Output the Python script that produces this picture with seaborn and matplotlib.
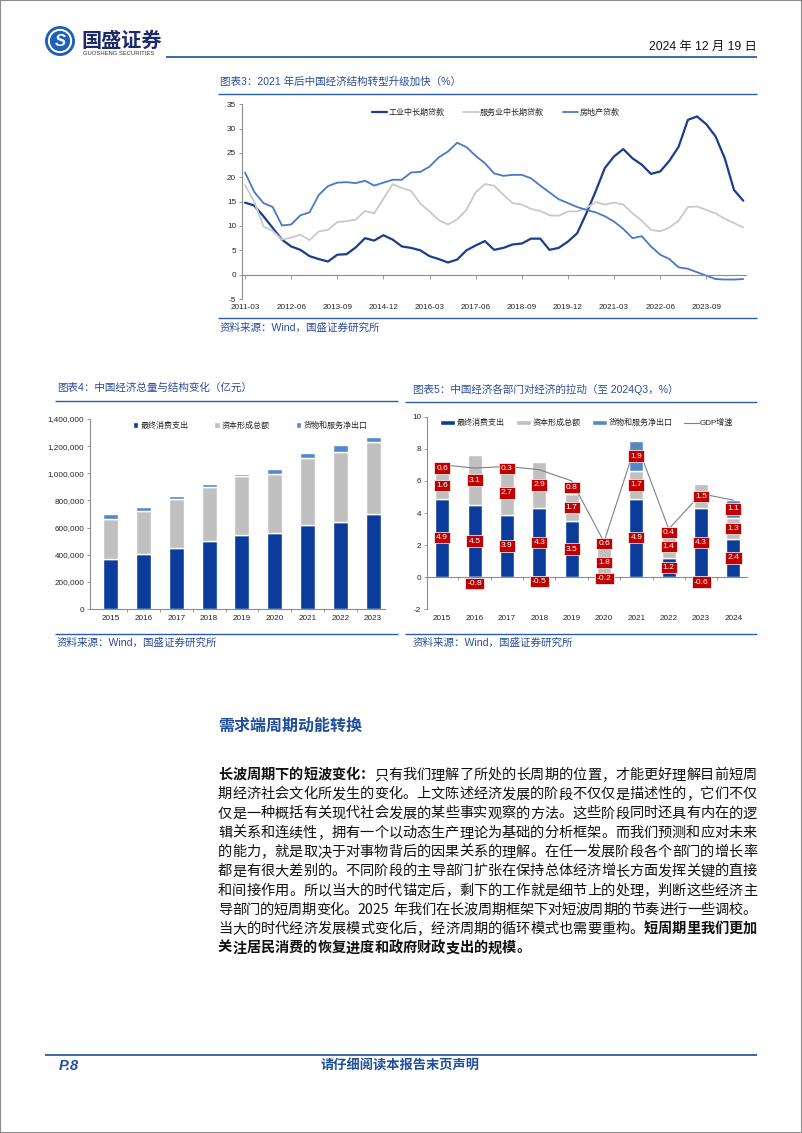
import numpy as np
import pandas as pd
import matplotlib
matplotlib.use('Agg')
import matplotlib.pyplot as plt
from matplotlib.lines import Line2D
from matplotlib.patches import Rectangle, Circle
import seaborn as sns

# ---------------- data ----------------
# Chart 3 (quarterly, 2011-03 .. 2024-09)
industrial = [14.8, 14.2, 12.0, 9.6, 7.2, 5.8, 5.1, 3.8, 3.2, 2.7, 4.1, 4.2, 5.6, 7.5, 7.0,
              8.1, 7.2, 5.8, 5.5, 5.0, 3.8, 3.2, 2.5, 3.1, 5.0, 6.0, 6.9, 5.1, 5.5, 6.2,
              6.4, 7.4, 7.4, 5.1, 5.5, 6.8, 8.5, 12.6, 17.1, 21.9, 24.3, 25.8, 23.9, 22.6, 20.7,
              21.2, 23.4, 26.3, 31.8, 32.5, 30.9, 28.4, 23.9, 17.4, 15.2]
services = [18.4, 15.0, 9.9, 9.0, 7.2, 7.6, 8.2, 7.1, 8.9, 9.2, 10.8, 11.0, 11.3, 13.1, 12.6,
            15.6, 18.6, 17.8, 17.2, 14.6, 13.0, 11.2, 10.3, 11.4, 13.3, 16.9, 18.6, 18.3, 16.4, 14.7,
            14.4, 13.5, 13.1, 12.2, 12.1, 13.0, 13.0, 13.7, 14.9, 14.4, 14.8, 14.4, 12.6, 11.1, 9.2,
            8.9, 9.7, 11.1, 13.9, 14.0, 13.3, 12.6, 11.5, 10.6, 9.7]
real_estate = [21.0, 17.0, 14.7, 13.9, 10.1, 10.3, 12.2, 12.8, 16.4, 18.2, 18.9, 19.0, 18.8, 19.3, 18.3,
               18.9, 19.5, 19.5, 21.0, 21.1, 22.2, 24.1, 25.3, 27.1, 26.2, 24.4, 22.9, 20.8, 20.3, 20.5,
               20.5, 19.8, 18.3, 16.9, 15.5, 14.7, 13.9, 13.3, 12.8, 12.0, 10.9, 9.4, 7.5, 7.9, 5.8,
               4.1, 3.2, 1.5, 1.2, 0.5, -0.2, -0.9, -1.0, -1.0, -0.9]
quarter_ticks = ['2011-03', '2012-06', '2013-09', '2014-12', '2016-03', '2017-06',
                 '2018-09', '2019-12', '2021-03', '2022-06', '2023-09']
series3_names = ['工业中长期贷款', '服务业中长期贷款', '房地产贷款']

# Chart 4 (亿元)
years4 = ['2015', '2016', '2017', '2018', '2019', '2020', '2021', '2022', '2023']
consumption4 = [366000, 408000, 452000, 503000, 548000, 557000, 616000, 641000, 700000]
capital4 = [297000, 316000, 358000, 398000, 432000, 438000, 499000, 518000, 528000]
netexp4 = [34000, 27000, 22000, 17000, 15000, 36000, 37000, 49000, 39000]
names4 = ['最终消费支出', '资本形成总额', '货物和服务净出口']

# Chart 5 (%)
years5 = ['2015', '2016', '2017', '2018', '2019', '2020', '2021', '2022', '2023', '2024']
consumption5 = [4.9, 4.5, 3.9, 4.3, 3.5, -0.2, 4.9, 1.2, 4.3, 2.4]
capital5 = [1.6, 3.1, 2.7, 2.9, 1.7, 1.8, 1.7, 1.4, 1.5, 1.3]
netexp5 = [0.6, -0.8, 0.3, -0.5, 0.8, 0.6, 1.9, 0.4, -0.6, 1.1]
gdp5 = [7.0, 6.8, 6.9, 6.7, 6.0, 2.2, 8.4, 3.0, 5.2, 4.8]
names5 = ['最终消费支出', '资本形成总额', '货物和服务净出口', 'GDP增速']

# ---------------- style ----------------
sns.set_theme(style='white')
plt.rcParams['font.family'] = ['Liberation Sans', 'Noto Sans CJK SC']
plt.rcParams['axes.unicode_minus'] = False

DARK = '#0B3C9C'
GRAY = '#C0C0C0'
LIGHT = '#5488CC'
ACCENT = '#2A5CAA'
TITLE_C = '#2B4C9B'
TXT = '#262626'
SPINE = '#8C8C8C'

W, H = 802, 1133
fig = plt.figure(figsize=(W / 100, H / 100), dpi=100)
fig.patch.set_facecolor('white')


def fx(x):
    return x / W


def fy(y):
    return 1 - y / H


def hline(x0, x1, y, color=ACCENT, lw=1.0):
    fig.add_artist(Line2D([fx(x0), fx(x1)], [fy(y), fy(y)], transform=fig.transFigure,
                          color=color, lw=lw, solid_capstyle='butt'))


def axes_px(l, t, r, b):
    return fig.add_axes([fx(l), fy(b), (r - l) / W, (b - t) / H])


def style_ax(ax):
    ax.set_facecolor('none')
    ax.grid(False)
    for s in ['top', 'right']:
        ax.spines[s].set_visible(False)
    for s in ['left', 'bottom']:
        ax.spines[s].set_color(SPINE)
        ax.spines[s].set_linewidth(0.8)
    ax.tick_params(axis='both', labelsize=5.9, labelcolor=TXT, color=SPINE, width=0.6)
    ax.tick_params(axis='y', left=True, length=2, pad=2, direction='out')


# page border
fig.add_artist(Rectangle((0, 0), 1, 1, transform=fig.transFigure, fill=False,
                         ec='#8a8a8a', lw=1.5))

# ---------------- header ----------------
axl = axes_px(45, 26, 75, 56)
axl.set_aspect('equal')
axl.set_xlim(-1.05, 1.05)
axl.set_ylim(-1.05, 1.05)
axl.axis('off')
axl.add_patch(Circle((0, 0), 1.0, color='#1F5FB8'))
axl.add_patch(Circle((0, 0), 0.80, color='white'))
axl.add_patch(Circle((0, 0), 0.66, color='#1F5FB8'))
axl.text(0, -0.02, 'S', ha='center', va='center', color='white', fontsize=12,
         fontweight='bold', fontstyle='italic', family=['Liberation Sans'])

fig.text(fx(81), fy(40), '国盛证券', fontsize=14.5, fontweight='bold', color='#1B2A6B',
         va='center', ha='left', family=['Noto Sans CJK SC'])
fig.text(fx(83), fy(53.5), 'GUOSHENG SECURITIES', fontsize=4.2, color='#333333',
         va='center', ha='left')
hline(166, 757, 57, ACCENT, 1.3)
fig.text(fx(757), fy(47), '2024 年 12 月 19 日', fontsize=8.8, color='#111111',
         ha='right', va='center',
         family=['Liberation Sans Narrow', 'Liberation Sans', 'Noto Sans CJK SC'])

# ---------------- chart 3 ----------------
fig.text(fx(220), fy(82), '图表3：2021 年后中国经济结构转型升级加快（%）', fontsize=7.6,
         color=TITLE_C, va='center')
hline(218, 757, 94, ACCENT, 1.0)

ax3 = axes_px(241.7, 104.3, 746, 299)
style_ax(ax3)
idx = np.arange(len(industrial))
df3 = pd.DataFrame({'q': idx, series3_names[0]: industrial,
                    series3_names[1]: services, series3_names[2]: real_estate})
sns.lineplot(data=df3, x='q', y=series3_names[0], ax=ax3, color='#1C3C8C', linewidth=1.6,
             label=series3_names[0], sort=False)
sns.lineplot(data=df3, x='q', y=series3_names[1], ax=ax3, color='#C9C9C9', linewidth=1.3,
             label=series3_names[1], sort=False)
sns.lineplot(data=df3, x='q', y=series3_names[2], ax=ax3, color='#4A78C2', linewidth=1.3,
             label=series3_names[2], sort=False)
ax3.set_xlim(-0.36, 54.3)
ax3.set_ylim(-5, 35)
ax3.set_yticks(np.arange(-5, 36, 5))
ax3.spines['bottom'].set_position(('data', 0))
ax3.set_xticks(np.arange(0, 55, 5))
ax3.set_xticklabels(quarter_ticks)
ax3.tick_params(axis='x', bottom=True, length=3, pad=18, direction='out')
ax3.set_xlabel('')
ax3.set_ylabel('')
ax3.legend(loc='center left', bbox_to_anchor=(0.258, 0.955), ncol=3, frameon=False,
           fontsize=5.8, handlelength=1.9, handletextpad=0.2, columnspacing=2.3,
           borderpad=0, borderaxespad=0)

hline(218, 757, 318, ACCENT, 1.0)
fig.text(fx(220), fy(328), '资料来源：Wind，国盛证券研究所', fontsize=7.6, color=TITLE_C,
         va='center')

# ---------------- chart 4 ----------------
fig.text(fx(57), fy(388), '图表4：中国经济总量与结构变化（亿元）', fontsize=7.6, color=TITLE_C,
         va='center')
hline(55, 398, 401, ACCENT, 1.0)

ax4 = axes_px(90, 419, 385, 609)
style_ax(ax4)
x4 = np.arange(len(years4))
c4 = np.array(consumption4, dtype=float)
k4 = np.array(capital4, dtype=float)
n4 = np.array(netexp4, dtype=float)
b1 = ax4.bar(x4, c4, width=0.46, color=DARK, label=names4[0], zorder=2)
b2 = ax4.bar(x4, k4, bottom=c4, width=0.46, color=GRAY, label=names4[1], zorder=2)
b3 = ax4.bar(x4, n4, bottom=c4 + k4, width=0.46, color=LIGHT, label=names4[2], zorder=2)
ax4.set_xlim(-0.63, 8.36)
ax4.set_ylim(0, 1400000)
ax4.set_yticks(np.arange(0, 1400001, 200000))
ax4.set_yticklabels([f'{int(v):,}' for v in np.arange(0, 1400001, 200000)])
ax4.set_xticks(x4)
ax4.set_xticklabels(years4)
ax4.set_xticks(np.arange(0.5, 8, 1), minor=True)
ax4.tick_params(axis='x', which='major', bottom=True, length=0, pad=4)
ax4.tick_params(axis='x', which='minor', bottom=True, length=2.5, width=0.6, color=SPINE)
ax4.legend([b1, b2, b3], names4, loc='center left', bbox_to_anchor=(0.145, 0.963), ncol=3,
           frameon=False, fontsize=5.8, handlelength=0.7, handleheight=0.7,
           handletextpad=0.25, columnspacing=3.2, borderpad=0, borderaxespad=0)

hline(55, 398, 634, ACCENT, 1.0)
fig.text(fx(57), fy(643), '资料来源：Wind，国盛证券研究所', fontsize=7.6, color=TITLE_C,
         va='center')

# ---------------- chart 5 ----------------
fig.text(fx(413), fy(389), '图表5：中国经济各部门对经济的拉动（至 2024Q3，%）', fontsize=7.6,
         color=TITLE_C, va='center')
hline(405, 757, 402, ACCENT, 1.0)

ax5 = axes_px(426.7, 416.7, 746.7, 609.3)
style_ax(ax5)
x5 = np.arange(len(years5))
pos_base = np.zeros(len(years5))
neg_base = np.zeros(len(years5))
containers = []
label_items = []
for vals, col, name in [(consumption5, DARK, names5[0]), (capital5, GRAY, names5[1]),
                        (netexp5, LIGHT, names5[2])]:
    v = np.array(vals, dtype=float)
    bottoms = np.where(v >= 0, pos_base, neg_base)
    bc = ax5.bar(x5, v, bottom=bottoms, width=0.43, color=col, label=name, zorder=2)
    containers.append(bc)
    for xi, vi, bi in zip(x5, v, bottoms):
        label_items.append((xi, bi + vi / 2, vi))
    pos_base = pos_base + np.where(v >= 0, v, 0)
    neg_base = neg_base + np.where(v < 0, v, 0)

df5 = pd.DataFrame({'year': x5, 'gdp': gdp5})
sns.lineplot(data=df5, x='year', y='gdp', ax=ax5, color='#808080', linewidth=0.8,
             sort=False, zorder=3)
gdp_line = ax5.lines[-1]
for xi, yc, vi in label_items:
    ax5.text(xi, yc, f'{vi:.1f}', ha='center', va='center', color='white', fontsize=6.1,
             zorder=5,
             bbox=dict(boxstyle='square,pad=0.25', fc='#C00000', ec='white', lw=0.5))
ax5.set_xlim(-0.48, 9.41)
ax5.set_ylim(-2, 10)
ax5.set_yticks(np.arange(-2, 11, 2))
ax5.spines['bottom'].set_position(('data', 0))
ax5.set_xticks(x5)
ax5.set_xticklabels(years5)
ax5.set_xticks(np.arange(0.5, 9, 1), minor=True)
ax5.tick_params(axis='x', which='major', bottom=True, length=0, pad=27.5)
ax5.tick_params(axis='x', which='minor', bottom=True, length=2.5, width=0.6, color=SPINE)
ax5.set_xlabel('')
ax5.set_ylabel('')
ax5.legend(containers + [gdp_line], names5, loc='center left', bbox_to_anchor=(0.042, 0.967),
           ncol=4, frameon=False, fontsize=5.8, handlelength=1.9, handleheight=0.55,
           handletextpad=0.15, columnspacing=1.4, borderpad=0, borderaxespad=0)

hline(405, 757, 634, ACCENT, 1.0)
fig.text(fx(413), fy(643), '资料来源：Wind，国盛证券研究所', fontsize=7.6, color=TITLE_C,
         va='center')

# ---------------- text section ----------------
fig.text(fx(218), fy(726), '需求端周期动能转换', fontsize=11.5, fontweight='bold',
         color='#1F4E9A', va='center', family=['Noto Sans CJK SC'])

para_lines = [
    [('长波周期下的短波变化：', True), ('只有我们理解了所处的长周期的位置，才能更好理解目前短周', False)],
    [('期经济社会文化所发生的变化。上文陈述经济发展的阶段不仅仅是描述性的，它们不仅', False)],
    [('仅是一种概括有关现代社会发展的某些事实观察的方法。这些阶段同时还具有内在的逻', False)],
    [('辑关系和连续性，拥有一个以动态生产理论为基础的分析框架。而我们预测和应对未来', False)],
    [('的能力，就是取决于对事物背后的因果关系的理解。在任一发展阶段各个部门的增长率', False)],
    [('都是有很大差别的。不同阶段的主导部门扩张在保持总体经济增长方面发挥关键的直接', False)],
    [('和间接作用。所以当大的时代锚定后，剩下的工作就是细节上的处理，判断这些经济主', False)],
    [('导部门的短周期变化。2025 年我们在长波周期框架下对短波周期的节奏进行一些调校。', False)],
    [('当大的时代经济发展模式变化后，经济周期的循环模式也需要重构。', False), ('短周期里我们更加', True)],
    [('关注居民消费的恢复进度和政府财政支出的规模。', True)],
]

EM = 14.2
FS = EM * 72 / 100
X0, X1 = 218, 757
Y0, DY = 775, 19.25


def tokenize(segments):
    toks = []
    for text, bold in segments:
        i = 0
        while i < len(text):
            ch = text[i]
            if ch.isascii() and ch.isdigit():
                j = i
                while j < len(text) and text[j].isascii() and text[j].isdigit():
                    j += 1
                toks.append((text[i:j], bold, 0.56 * (j - i)))
                i = j
            elif ch == ' ':
                toks.append((None, bold, 0.3))
                i += 1
            else:
                toks.append((ch, bold, 1.0))
                i += 1
    return toks


for li, segs in enumerate(para_lines):
    toks = tokenize(segs)
    natural = sum(t[2] for t in toks) * EM
    last = li == len(para_lines) - 1
    gap = 0.0 if last else (X1 - X0 - natural) / (len(toks) - 1)
    x = X0
    y = Y0 + li * DY
    for txt, bold, w in toks:
        if txt is not None:
            fig.text(fx(x), fy(y), txt, fontsize=FS, ha='left', va='center',
                     fontweight='bold' if bold else 'normal', color='#111111',
                     family=['Noto Sans CJK SC'])
        x += w * EM + gap

# ---------------- footer ----------------
hline(45, 757, 1055, ACCENT, 1.3)
fig.text(fx(59), fy(1066), 'P.8', fontsize=10.5, fontweight='bold', fontstyle='italic',
         color='#1F4E9A', va='center', family=['Liberation Sans'])
fig.text(fx(400), fy(1066), '请仔细阅读本报告末页声明', fontsize=9.5, fontweight='bold',
         color='#1F4E9A', ha='center', va='center', family=['Noto Sans CJK SC'])

fig.savefig('out.png', dpi=100, facecolor='white')
